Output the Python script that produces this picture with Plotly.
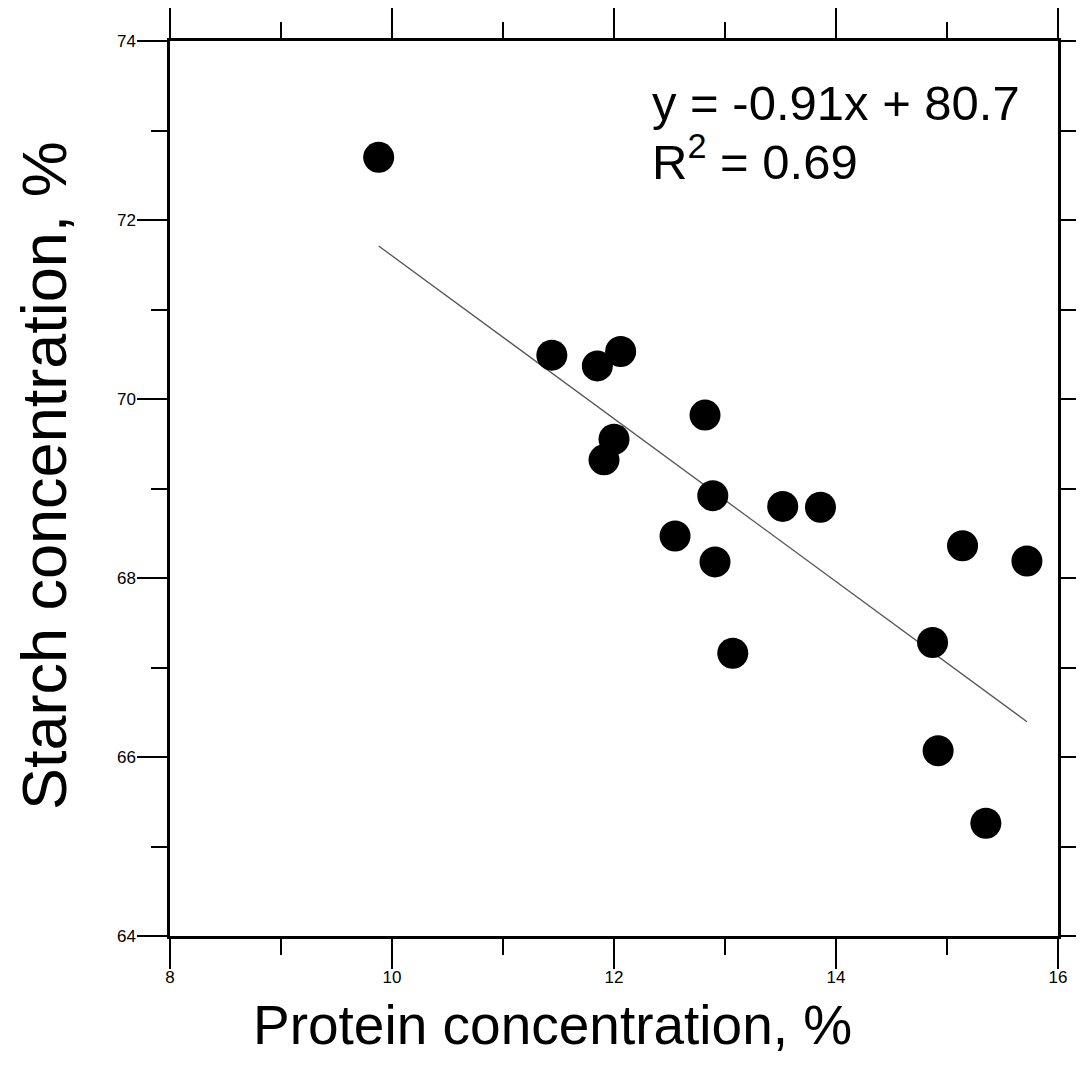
import plotly.graph_objects as go

# protein vs starch
protein = [9.88, 11.44, 11.85, 12.06, 12.00, 11.91, 12.82, 12.89, 12.55,
           12.91, 13.52, 13.86, 13.07, 14.87, 15.14, 15.72, 14.92, 15.35]
starch = [72.70, 70.49, 70.37, 70.53, 69.55, 69.32, 69.82, 68.92, 68.47,
          68.18, 68.80, 68.79, 67.16, 67.28, 68.36, 68.19, 66.07, 65.26]

# fitted line as printed on the chart
slope = -0.91
intercept = 80.7
eq_text = "y = -0.91x + 80.7"
r2_text = "R<sup>2</sup> = 0.69"

x_title = "Protein concentration, %"
y_title = "Starch concentration, %"
x_ticks = [8, 10, 12, 14, 16]
y_ticks = [64, 66, 68, 70, 72, 74]

fit_x = [min(protein), max(protein)]
fit_y = [slope * v + intercept for v in fit_x]

fig = go.Figure()
fig.add_trace(go.Scatter(x=fit_x, y=fit_y, mode='lines',
                         line=dict(color='#555555', width=1.3),
                         hoverinfo='skip'))
fig.add_trace(go.Scatter(x=protein, y=starch, mode='markers',
                         marker=dict(color='black', size=31)))

axis_common = dict(
    showgrid=False, zeroline=False, automargin=False,
    showline=True, linecolor='black', linewidth=2.5,
    mirror='allticks',
    ticks='outside', ticklen=30, tickwidth=2, tickcolor='black',
    minor=dict(ticks='outside', ticklen=16, tickwidth=2, tickcolor='black', dtick=1),
    tickfont=dict(family='Liberation Sans', size=17, color='black'),
)

fig.update_xaxes(range=[8, 16], tickvals=x_ticks, ticklabelstandoff=-6, **axis_common)
fig.update_yaxes(range=[64, 74], tickvals=y_ticks, ticklabelstandoff=-2, **axis_common)

# axis titles as annotations, the scan has them a bit off-centre
fig.add_annotation(x=0.431, y=-0.099, xref='paper', yref='paper', text=x_title,
                   showarrow=False, xanchor='center', yanchor='middle',
                   font=dict(family='Liberation Sans', size=55, color='black'))
fig.add_annotation(x=-0.1419, y=0.515, xref='paper', yref='paper', text=y_title,
                   showarrow=False, xanchor='center', yanchor='middle', textangle=-90,
                   font=dict(family='Liberation Sans', size=63, color='black'))

fig.add_annotation(x=12.32, y=73.31, xref='x', yref='y', text=eq_text,
                   showarrow=False, xanchor='left', yanchor='middle',
                   font=dict(family='Liberation Sans', size=49, color='black'))
fig.add_annotation(x=12.32, y=72.69, xref='x', yref='y', text=r2_text,
                   showarrow=False, xanchor='left', yanchor='middle',
                   font=dict(family='Liberation Sans', size=49, color='black'))

fig.update_layout(width=1084, height=1080, showlegend=False,
                  plot_bgcolor='white', paper_bgcolor='white',
                  margin=dict(l=162, r=34, t=33, b=152))

fig.write_html("out.html")
